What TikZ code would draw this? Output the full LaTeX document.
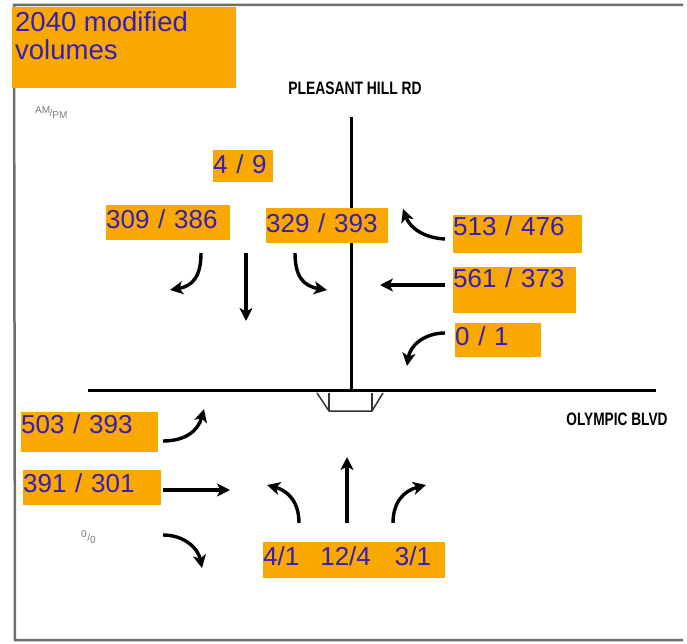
\documentclass[tikz,border=0pt]{standalone}
\usepackage{fontspec}
\setmainfont{Liberation Sans}
\usetikzlibrary{arrows.meta}
\definecolor{boxorange}{RGB}{249,168,0}
\definecolor{numblue}{RGB}{55,30,180}
\definecolor{framegray}{RGB}{110,110,110}
\definecolor{notegray}{RGB}{120,120,120}
\tikzset{
  volbox/.style={fill=boxorange, inner sep=0pt, anchor=north west, align=left,
    text=numblue, font=\fontsize{26}{28}\selectfont},
  titlebox/.style={fill=boxorange, inner sep=0pt, anchor=north west},
  titletext/.style={inner sep=0pt, anchor=base west, text=numblue,
    font=\fontsize{27.5}{28}\selectfont},
  frameline/.style={line width=2.5pt, framegray},
  road/.style={line width=3pt, black},
  median/.style={line width=1.5pt, black!80},
  turn/.style={line width=3.4pt, -{Stealth[length=13pt,width=13pt,inset=3.5pt]}},
  roadname/.style={inner sep=0pt, anchor=base, font=\bfseries\fontsize{18}{18}\selectfont},
  note/.style={inner sep=0pt, anchor=base west, text=notegray, font=\fontsize{10}{10}\selectfont},
}
\begin{document}
\begin{tikzpicture}[x=1pt,y=1pt]
\useasboundingbox (0,0) rectangle (687,-644);
% frame
\coordinate (ftl) at (14,-5);
\coordinate (ftr) at (683,-5);
\coordinate (fbl) at (15,-640);
\coordinate (fbr) at (683,-640);
\draw[frameline] (ftr) -- (ftl |- ftr) -- (fbl) -- (fbr);
% title
\node[titlebox, minimum width=224pt, minimum height=81pt] (title) at (12,-7) {};
\node[titletext] (title1) at (15,-32) {2040 modified};
\node[titletext] (title2) at (15,-60) {volumes};
% roads
\coordinate (rtop) at (351,-117);
\coordinate (rx) at (351,-390);
\coordinate (rw) at (88,-390);
\coordinate (re) at (656,-390);
\draw[road] (rtop) -- (rx);
\draw[road] (rw) -- (re);
% median symbol
\coordinate (m1) at (317,-393);
\coordinate (m2) at (329,-411);
\coordinate (m3) at (372,-411);
\coordinate (m4) at (383,-393);
\draw[median, line join=round] (m1) -- (m2) -- (m3) -- (m4);
\draw[median] (m2) -- (m2 |- m1);
\draw[median] (m3) -- (m3 |- m4);
% road names
\node[roadname] (phr) at (355,-95) {\scalebox{0.77}[1]{PLEASANT HILL RD}};
\node[roadname] (ob) at (617,-425) {\scalebox{0.76}[1]{OLYMPIC BLVD}};
% notes
\node[note] (ampm) at (35,-117) {\raisebox{3.5pt}{AM}\kern-0.5pt/\raisebox{-2pt}{PM}};
\node[note] (pct) at (81,-541) {\raisebox{3.5pt}{0}\kern0.5pt/\raisebox{-2pt}{0}};
% volume boxes
\node[volbox, text width=60pt,  text height=23pt, text depth=9pt]  (v49)  at (213,-150) {4 / 9};
\node[volbox, text width=124pt, text height=23pt, text depth=12pt] (v309) at (106,-205) {309 / 386};
\node[volbox, text width=122pt, text height=24pt, text depth=11pt] (v329) at (266,-208) {329 / 393};
\node[volbox, text width=129pt, text height=20pt, text depth=18pt] (v513) at (453,-215) {513 / 476};
\node[volbox, text width=123pt, text height=20pt, text depth=26pt] (v561) at (453,-267) {561 / 373};
\node[volbox, text width=86pt,  text height=22pt, text depth=12pt] (v01)  at (455,-323) {0 / 1};
\node[volbox, text width=137pt, text height=21pt, text depth=19pt] (v503) at (21,-412)  {503 / 393};
\node[volbox, text width=138pt, text height=22pt, text depth=13pt] (v391) at (23,-470)  {391 / 301};
\node[volbox, text width=182pt, text height=23pt, text depth=13pt] (vnb)  at (263,-542) {4/1\hspace{21pt}12/4\hspace{24pt}3/1};
% arrow end points
\coordinate (sl0) at (201,-253); \coordinate (sl1) at (170,-290);
\coordinate (st0) at (246,-253); \coordinate (st1) at (246,-321);
\coordinate (sr0) at (295,-253); \coordinate (sr1) at (327,-290);
\coordinate (wr0) at (445,-239); \coordinate (wr1) at (403,-209);
\coordinate (wt0) at (445,-285); \coordinate (wt1) at (380,-285);
\coordinate (wl0) at (445,-333); \coordinate (wl1) at (407,-366);
\coordinate (el0) at (163,-441); \coordinate (el1) at (204,-409);
\coordinate (et0) at (163,-490); \coordinate (et1) at (230,-490);
\coordinate (er0) at (163,-535); \coordinate (er1) at (202,-568);
\coordinate (nl0) at (299,-523); \coordinate (nl1) at (267,-485);
\coordinate (nt0) at (347,-523); \coordinate (nt1) at (347,-457);
\coordinate (nr0) at (393,-523); \coordinate (nr1) at (426,-485);
% arrows
\draw[turn] (sl0) .. controls (201,-276) and (193,-286) .. (sl1);
\draw[turn] (st0) -- (st1);
\draw[turn] (sr0) .. controls (295,-276) and (303,-286) .. (sr1);
\draw[turn] (wr0) .. controls (424,-238) and (410,-228) .. (wr1);
\draw[turn] (wt0) -- (wt1);
\draw[turn] (wl0) .. controls (424,-333) and (410,-346) .. (wl1);
\draw[turn] (el0) .. controls (185,-441) and (198,-431) .. (el1);
\draw[turn] (et0) -- (et1);
\draw[turn] (er0) .. controls (184,-535) and (198,-548) .. (er1);
\draw[turn] (nl0) .. controls (299,-503) and (289,-491) .. (nl1);
\draw[turn] (nt0) -- (nt1);
\draw[turn] (nr0) .. controls (393,-503) and (403,-491) .. (nr1);
\end{tikzpicture}
\end{document}
